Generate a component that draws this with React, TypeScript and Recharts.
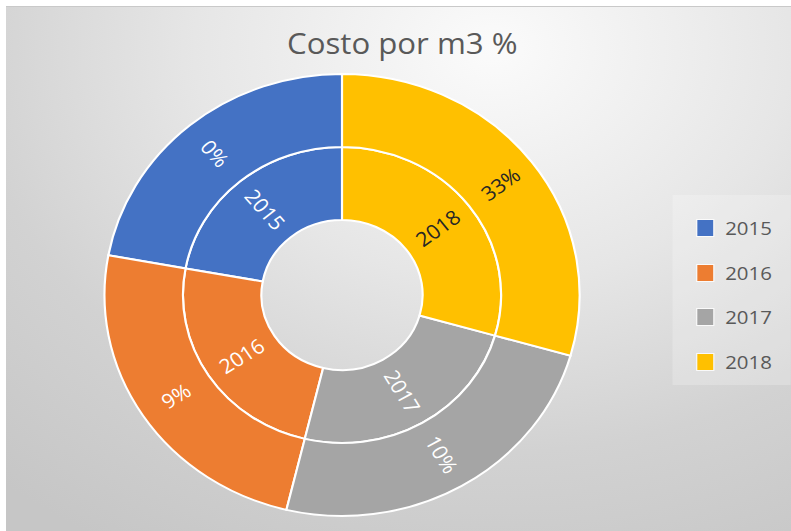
import { PieChart, Pie, Cell, Legend } from "recharts";

// Costo por m3 — one slice per year, outer ring labelled with the increase
const years = ["2015", "2016", "2017", "2018"];
const costs = [100, 109, 110, 133];
const increases = ["0%", "9%", "10%", "33%"];

const PALETTE = ["#4472C4", "#ED7D31", "#A5A5A5", "#FFC000"];
const FONT = "'Open Sans', Lato, sans-serif";
const STRETCH = 1.075; // the source picture is a little wider than tall

const data = years.map((year, i) => ({ year, cost: costs[i], inc: increases[i] }));

const RAD = Math.PI / 180;

function ringLabel(field: "year" | "inc") {
  return (p: any) => {
    const r = (p.innerRadius + p.outerRadius) / 2;
    const x = p.cx + r * Math.cos(-p.midAngle * RAD);
    const y = p.cy + r * Math.sin(-p.midAngle * RAD);
    // keep text readable: outward on the right half, inward on the left
    const rot = Math.cos(p.midAngle * RAD) >= 0 ? -p.midAngle : 180 - p.midAngle;
    const entry = p.payload ?? p;
    const fill = entry.year === "2018" ? "#262626" : "#ffffff";
    return (
      <text
        x={x}
        y={y}
        transform={`rotate(${rot} ${x} ${y})`}
        textAnchor="middle"
        dominantBaseline="central"
        fill={fill}
        fontSize={20}
        fontFamily={FONT}
      >
        {entry[field]}
      </text>
    );
  };
}

function LegendBox(props: any) {
  // both rings report the same years; show each once
  const seen = new Set<string>();
  const items = (props.payload ?? []).filter((it: any) => {
    if (seen.has(it.value)) return false;
    seen.add(it.value);
    return true;
  });
  return (
    <div
      style={{
        width: 110,
        height: 190,
        boxSizing: "border-box",
        paddingTop: 11,
        background: "rgba(255,255,255,0.22)",
        fontFamily: FONT,
      }}
    >
      {items.map((it: any) => (
        <div key={it.value} style={{ display: "flex", alignItems: "center", height: 44.5 }}>
          <span
            style={{
              display: "inline-block",
              width: 15,
              height: 16,
              marginLeft: 23,
              background: it.color,
              outline: "1px solid rgba(255,255,255,0.8)",
            }}
          />
          <span style={{ marginLeft: 11, fontSize: 19, color: "#595959" }}>{it.value}</span>
        </div>
      ))}
    </div>
  );
}

export default function App() {
  const W = 785 / STRETCH;
  const H = 525;
  return (
    <div style={{ position: "fixed", left: 0, top: 0, width: 791, height: 531, background: "#fff" }}>
      <div
        style={{
          position: "absolute",
          left: 6,
          top: 6,
          width: 785,
          height: 525,
          overflow: "hidden",
          borderTop: "1px solid #c9c9c9",
          boxSizing: "border-box",
          background:
            "radial-gradient(ellipse 95% 110% at 62% 8%, #fbfbfb 0%, #e6e6e6 40%, #d2d2d2 70%, #c6c6c6 100%)",
        }}
      >
        <div style={{ width: W, height: H, transform: `scaleX(${STRETCH})`, transformOrigin: "0 0", position: "relative" }}>
          <div
            style={{
              position: "absolute",
              left: 0,
              top: 18,
              width: W,
              textAlign: "center",
              paddingLeft: 7,
              boxSizing: "border-box",
              fontFamily: FONT,
              fontSize: 29,
              color: "#595959",
              lineHeight: "36px",
            }}
          >
            Costo por m3 %
          </div>
          <PieChart width={W} height={H} margin={{ top: 0, right: 0, bottom: 0, left: 0 }}>
            <Pie
              data={data}
              dataKey="cost"
              nameKey="year"
              cx={312.6}
              cy={288}
              innerRadius={75}
              outerRadius={148}
              startAngle={90}
              endAngle={450}
              stroke="#ffffff"
              strokeWidth={2}
              labelLine={false}
              label={ringLabel("year")}
              isAnimationActive={false}
            >
              {data.map((d, i) => (
                <Cell key={d.year} fill={PALETTE[i]} />
              ))}
            </Pie>
            <Pie
              data={data}
              dataKey="cost"
              nameKey="year"
              cx={312.6}
              cy={288}
              innerRadius={148}
              outerRadius={221}
              startAngle={90}
              endAngle={450}
              stroke="#ffffff"
              strokeWidth={2}
              labelLine={false}
              label={ringLabel("inc")}
              legendType="none"
              isAnimationActive={false}
            >
              {data.map((d, i) => (
                <Cell key={d.year} fill={PALETTE[i]} />
              ))}
            </Pie>
            <Legend
              layout="vertical"
              align="right"
              verticalAlign="top"
              content={<LegendBox />}
              wrapperStyle={{ left: 620, top: 188, width: 110, height: 190 }}
            />
          </PieChart>
        </div>
      </div>
    </div>
  );
}
